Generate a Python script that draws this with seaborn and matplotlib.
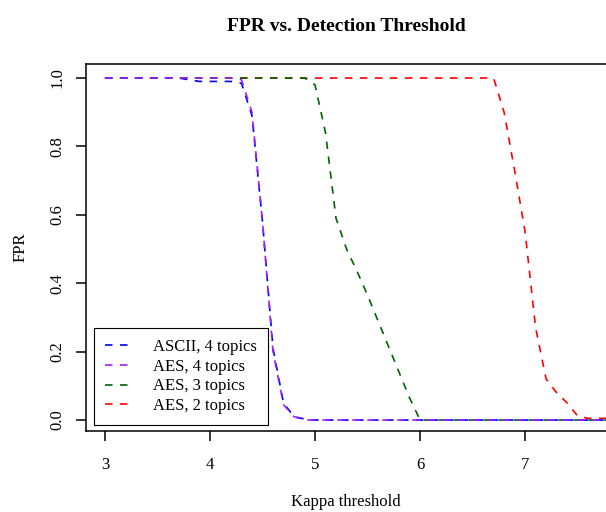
"""
FPR vs. Detection Threshold の再現
"""
import pandas as pd
import matplotlib
matplotlib.use("Agg")
import matplotlib.pyplot as plt
import seaborn as sns

# データ (kappa 3.0 - 8.0, 0.1刻み)
kappa = [3.0, 3.1, 3.2, 3.3, 3.4, 3.5, 3.6, 3.7, 3.8, 3.9,
         4.0, 4.1, 4.2, 4.3, 4.4, 4.5, 4.6, 4.7, 4.8, 4.9,
         5.0, 5.1, 5.2, 5.3, 5.4, 5.5, 5.6, 5.7, 5.8, 5.9,
         6.0, 6.1, 6.2, 6.3, 6.4, 6.5, 6.6, 6.7, 6.8, 6.9,
         7.0, 7.1, 7.2, 7.3, 7.4, 7.5, 7.6, 7.7, 7.8, 7.9, 8.0]

fpr_ascii_4 = [1.0, 1.0, 1.0, 1.0, 1.0, 1.0, 1.0, 1.0, 0.995, 0.99,
               0.99, 0.99, 0.99, 0.985, 0.89, 0.58, 0.21, 0.05, 0.01, 0.003,
               0.0, 0.0, 0.0, 0.0, 0.0, 0.0, 0.0, 0.0, 0.0, 0.0,
               0.0, 0.0, 0.0, 0.0, 0.0, 0.0, 0.0, 0.0, 0.0, 0.0,
               0.0, 0.0, 0.0, 0.0, 0.0, 0.0, 0.0, 0.0, 0.0, 0.0, 0.0]

fpr_aes_4 = [1.0, 1.0, 1.0, 1.0, 1.0, 1.0, 1.0, 1.0, 1.0, 1.0,
             1.0, 1.0, 1.0, 0.995, 0.90, 0.58, 0.20, 0.045, 0.01, 0.0,
             0.0, 0.0, 0.0, 0.0, 0.0, 0.0, 0.0, 0.0, 0.0, 0.0,
             0.0, 0.0, 0.0, 0.0, 0.0, 0.0, 0.0, 0.0, 0.0, 0.0,
             0.0, 0.0, 0.0, 0.0, 0.0, 0.0, 0.0, 0.0, 0.0, 0.0, 0.0]

fpr_aes_3 = [1.0, 1.0, 1.0, 1.0, 1.0, 1.0, 1.0, 1.0, 1.0, 1.0,
             1.0, 1.0, 1.0, 1.0, 1.0, 1.0, 1.0, 1.0, 1.0, 1.0,
             0.98, 0.84, 0.59, 0.50, 0.435, 0.365, 0.29, 0.215, 0.14, 0.065,
             0.0, 0.0, 0.0, 0.0, 0.0, 0.0, 0.0, 0.0, 0.0, 0.0,
             0.0, 0.0, 0.0, 0.0, 0.0, 0.0, 0.0, 0.0, 0.0, 0.0, 0.0]

fpr_aes_2 = [1.0, 1.0, 1.0, 1.0, 1.0, 1.0, 1.0, 1.0, 1.0, 1.0,
             1.0, 1.0, 1.0, 1.0, 1.0, 1.0, 1.0, 1.0, 1.0, 1.0,
             1.0, 1.0, 1.0, 1.0, 1.0, 1.0, 1.0, 1.0, 1.0, 1.0,
             1.0, 1.0, 1.0, 1.0, 1.0, 1.0, 1.0, 1.0, 0.90, 0.73,
             0.55, 0.27, 0.12, 0.08, 0.05, 0.012, 0.005, 0.005, 0.005, 0.005, 0.005]

labels = ["ASCII, 4 topics", "AES, 4 topics", "AES, 3 topics", "AES, 2 topics"]
colors = ["#0000FF", "#A020F0", "#006400", "#FF0000"]
series = [fpr_ascii_4, fpr_aes_4, fpr_aes_3, fpr_aes_2]

sns.set_style("ticks")
plt.rcParams["font.family"] = ["Liberation Serif", "DejaVu Serif"]
for key in ["text.color", "axes.labelcolor", "xtick.color", "ytick.color", "axes.edgecolor"]:
    plt.rcParams[key] = "black"

fig = plt.figure(figsize=(6.06, 5.12), dpi=100)
ax = fig.add_axes([86 / 606, 81 / 512, 520 / 606, 367 / 512])

# 描画順: 赤 -> 緑 -> 青 -> 紫 (紫が最前面)
for i in [3, 2, 0, 1]:
    df = pd.DataFrame({"kappa": kappa, "fpr": series[i]})
    sns.lineplot(data=df, x="kappa", y="fpr", ax=ax, color=colors[i],
                 linewidth=1.2, linestyle=(0, (4.5, 4.5)), label=labels[i])

ax.set_xlim(2.82, 7.77)
ax.set_ylim(-0.032, 1.041)
ax.set_xticks([3, 4, 5, 6, 7])
ax.set_yticks([0.0, 0.2, 0.4, 0.6, 0.8, 1.0])
ax.set_yticklabels(["0.0", "0.2", "0.4", "0.6", "0.8", "1.0"], rotation=90, va="center")
ax.tick_params(axis="both", labelsize=12, length=7, width=1.1, direction="out")
ax.tick_params(axis="x", pad=12)
ax.tick_params(axis="y", pad=8)
for s in ["left", "bottom", "top"]:
    ax.spines[s].set_linewidth(1.1)
ax.spines["right"].set_visible(False)

ax.set_xlabel("Kappa threshold", fontsize=12, labelpad=15)
ax.set_ylabel("FPR", fontsize=12, labelpad=15)
ax.set_title("FPR vs. Detection Threshold", fontsize=14, fontweight="bold", pad=24)

handles, labs = ax.get_legend_handles_labels()
order = [labs.index(l) for l in labels]
leg = ax.legend([handles[j] for j in order], labels, loc="lower left",
                bbox_to_anchor=(8 / 520, 6 / 367), borderaxespad=0,
                fontsize=12, handlelength=1.5, handletextpad=1.4,
                borderpad=0.65, labelspacing=0.22, fancybox=False,
                edgecolor="black", framealpha=1)
leg.get_frame().set_linewidth(0.8)

fig.savefig("out.png", dpi=100)
